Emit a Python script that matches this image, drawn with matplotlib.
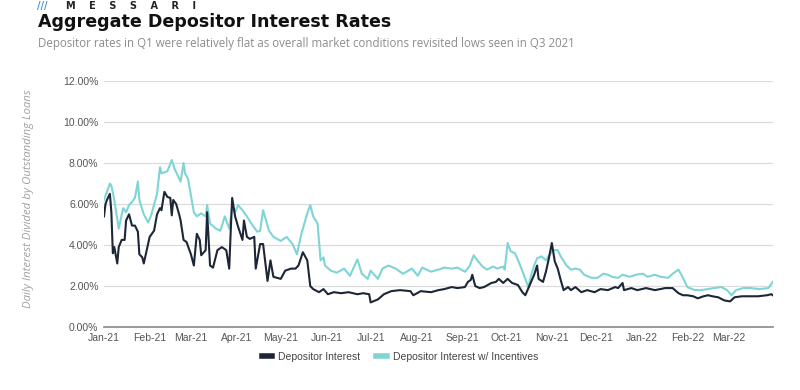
import matplotlib
matplotlib.use("Agg")
import matplotlib.pyplot as plt
import matplotlib.dates as mdates
from matplotlib.ticker import FuncFormatter
import pandas as pd

# days counted from 2021-01-01, values in percent
days_plain = [0, 1, 2, 4, 5, 6, 7, 9, 10, 12, 14, 15, 17, 19, 21, 23, 24, 26, 27, 29,
              31, 34, 36, 38, 39, 41, 43, 45, 46, 47, 49, 51, 52, 54, 56, 59, 61, 63, 65, 66,
              69, 70, 72, 74, 77, 80, 83, 85, 86, 87, 89, 91, 94, 95, 97, 99, 102, 103, 106, 108,
              111, 113, 115, 120, 123, 127, 130, 132, 135, 138, 140, 142, 146, 149, 152, 156, 161, 166, 172, 176,
              180, 181, 186, 190, 195, 201, 208, 210, 215, 222, 227, 231, 236, 240, 245, 247, 249, 250, 252, 255,
              258, 263, 266, 268, 271, 274, 277, 281, 284, 286, 289, 292, 294, 295, 298, 300, 302, 304, 306, 308,
              310, 312, 315, 317, 320, 324, 328, 333, 337, 342, 347, 349, 352, 353, 358, 362, 368, 374, 381, 386,
              390, 393, 396, 400, 403, 407, 410, 413, 417, 421, 425, 428, 433, 438, 444, 450, 453, 454]
rate_plain = [5.4, 6.0, 6.2, 6.5, 5.6, 3.6, 3.9, 3.1, 3.9, 4.25, 4.25, 5.2, 5.5, 4.95, 4.95, 4.65, 3.55, 3.4, 3.1, 3.75,
              4.4, 4.7, 5.5, 5.8, 5.7, 6.6, 6.35, 6.3, 5.45, 6.2, 6.0, 5.5, 5.2, 4.25, 4.15, 3.55, 3.0, 4.55, 4.25, 3.5,
              3.75, 5.6, 3.0, 2.9, 3.75, 3.9, 3.75, 2.85, 4.65, 6.3, 5.4, 4.9, 4.25, 5.2, 4.4, 4.3, 4.4, 2.85, 4.05, 4.05,
              2.25, 3.25, 2.45, 2.35, 2.75, 2.85, 2.85, 3.0, 3.65, 3.25, 2.0, 1.85, 1.7, 1.85, 1.6, 1.7, 1.65, 1.7, 1.6, 1.65,
              1.6, 1.2, 1.35, 1.6, 1.75, 1.8, 1.75, 1.55, 1.75, 1.7, 1.8, 1.85, 1.95, 1.9, 1.95, 2.2, 2.3, 2.55, 2.0, 1.9,
              1.95, 2.15, 2.2, 2.35, 2.15, 2.35, 2.15, 2.05, 1.7, 1.55, 2.05, 2.55, 3.0, 2.35, 2.2, 2.7, 3.35, 4.1, 3.2, 2.85,
              2.3, 1.8, 1.95, 1.8, 1.95, 1.7, 1.8, 1.7, 1.85, 1.8, 1.95, 1.9, 2.15, 1.8, 1.9, 1.8, 1.9, 1.8, 1.9, 1.9,
              1.65, 1.55, 1.55, 1.5, 1.4, 1.5, 1.55, 1.5, 1.45, 1.3, 1.25, 1.45, 1.5, 1.5, 1.5, 1.55, 1.6, 1.55]

days_incent = [0, 4, 5, 7, 10, 13, 15, 17, 19, 21, 23, 24, 27, 30, 32, 36, 38, 39, 43, 46,
               48, 52, 54, 55, 57, 61, 63, 66, 69, 70, 72, 76, 79, 82, 85, 87, 89, 91, 94, 97,
               100, 104, 106, 108, 112, 115, 120, 124, 128, 131, 134, 138, 140, 142, 145, 147, 149, 150, 154, 158,
               163, 167, 172, 175, 179, 181, 186, 189, 193, 198, 203, 209, 213, 216, 222, 227, 231, 236, 240, 245,
               248, 251, 254, 257, 260, 264, 267, 271, 272, 274, 276, 279, 282, 285, 288, 290, 292, 294, 297, 300,
               302, 305, 308, 310, 314, 317, 320, 323, 326, 331, 335, 339, 342, 345, 349, 352, 357, 361, 366, 369,
               374, 378, 383, 386, 390, 393, 396, 401, 405, 410, 414, 419, 423, 426, 429, 434, 439, 445, 451, 454]
rate_incent = [6.2, 7.0, 6.9, 6.2, 4.8, 5.8, 5.6, 5.95, 6.1, 6.3, 7.1, 6.2, 5.5, 5.1, 5.45, 6.5, 7.8, 7.5, 7.6, 8.15,
               7.7, 7.1, 8.0, 7.5, 7.25, 5.6, 5.4, 5.55, 5.4, 5.95, 5.05, 4.8, 4.7, 5.4, 4.8, 5.85, 5.6, 5.95, 5.7, 5.4,
               5.05, 4.65, 4.7, 5.7, 4.7, 4.4, 4.2, 4.4, 4.05, 3.55, 4.55, 5.55, 5.95, 5.4, 5.05, 3.25, 3.4, 3.0, 2.75, 2.65,
               2.85, 2.5, 3.3, 2.6, 2.35, 2.75, 2.35, 2.85, 3.0, 2.85, 2.6, 2.85, 2.5, 2.9, 2.7, 2.8, 2.9, 2.85, 2.9, 2.7,
               2.95, 3.5, 3.2, 2.95, 2.8, 2.95, 2.85, 2.95, 2.8, 4.1, 3.7, 3.6, 3.1, 2.55, 1.95, 2.55, 3.0, 3.35, 3.45, 3.25,
               3.5, 3.75, 3.75, 3.45, 3.0, 2.8, 2.85, 2.8, 2.55, 2.4, 2.4, 2.6, 2.55, 2.45, 2.4, 2.55, 2.45, 2.55, 2.6, 2.45,
               2.55, 2.45, 2.4, 2.6, 2.8, 2.4, 1.95, 1.8, 1.8, 1.85, 1.9, 1.95, 1.8, 1.55, 1.8, 1.9, 1.9, 1.85, 1.9, 2.2]

start = pd.Timestamp("2021-01-01")
dates_plain = [start + pd.Timedelta(days=d) for d in days_plain]
dates_incent = [start + pd.Timedelta(days=d) for d in days_incent]

dark = "#1c2636"
teal = "#7fd4d6"

fig = plt.figure(figsize=(8, 3.9), dpi=100)
ax = fig.add_axes([0.13, 0.1615, 0.836, 0.6305])

ax.plot(dates_plain, rate_plain, color=dark, lw=1.5, label="Depositor Interest", zorder=3)
ax.plot(dates_incent, rate_incent, color=teal, lw=1.5, label="Depositor Interest w/ Incentives", zorder=2)

ax.set_ylim(0, 12)
ax.set_yticks([0, 2, 4, 6, 8, 10, 12])
ax.yaxis.set_major_formatter(FuncFormatter(lambda v, p: "%.2f%%" % v))
ax.set_xlim(start, pd.Timestamp("2022-03-31"))
ax.xaxis.set_major_locator(mdates.MonthLocator())
ax.xaxis.set_major_formatter(mdates.DateFormatter("%b-%y"))

ax.grid(axis="y", color="#dcdcdc", lw=0.9)
ax.set_axisbelow(True)
for s in ["top", "right", "left"]:
    ax.spines[s].set_visible(False)
ax.spines["bottom"].set_color("#8a8a8a")
ax.spines["bottom"].set_linewidth(1.2)
ax.tick_params(length=0, labelsize=7.5, labelcolor="#555555", pad=4)
for t in ax.get_xticklabels() + ax.get_yticklabels():
    t.set_family("Liberation Sans")

fig.text(0.035, 0.49, "Daily Interest Divided by Outstanding Loans", rotation=90,
         ha="center", va="center", fontsize=8.2, style="italic", color="#a0a0a0", family="Open Sans")

fig.text(0.047, 1 - 27 / 390, "Aggregate Depositor Interest Rates", fontsize=12.6,
         fontweight="bold", color="#111111", family="DejaVu Sans")
fig.text(0.047, 1 - 47 / 390, "Depositor rates in Q1 were relatively flat as overall market conditions revisited lows seen in Q3 2021",
         fontsize=8.3, color="#8c8c8c", family="Open Sans")

# logo strip at the top edge
fig.text(0.046, 1 - 9 / 390, "///", fontsize=7, color="#4a8fd0", fontweight="bold", va="baseline")
fig.text(0.082, 1 - 9 / 390, "M    E    S    S    A    R    I", fontsize=7, color="#222222",
         fontweight="bold", va="baseline")

ax.legend(loc="center", bbox_to_anchor=(0.5, 0.085), bbox_transform=fig.transFigure, ncol=2,
          frameon=False, handlelength=1.0, handletextpad=0.6, columnspacing=1.5,
          prop={"family": "Liberation Sans", "size": 7.5})
leg = ax.get_legend()
for h in leg.legend_handles:
    h.set_linewidth(4)
for t in leg.get_texts():
    t.set_color("#444444")

fig.savefig("out.png", dpi=100)
